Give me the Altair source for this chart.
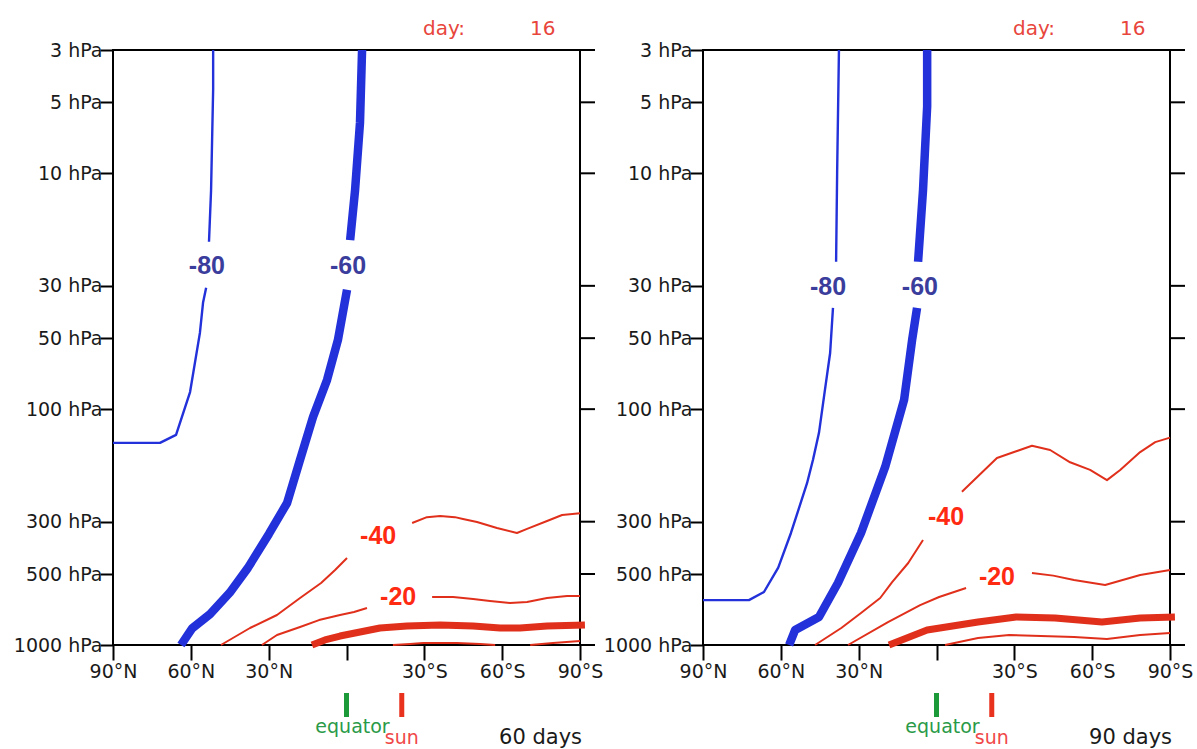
import altair as alt
import pandas as pd

# plot-area size of each panel (pixels)
W, H = 467, 595

P_TICKS = [3, 5, 10, 30, 50, 100, 300, 500, 1000]
LAT_TICKS = [90, 60, 30, 0, -30, -60, -90]
DAY = 16
SUN_LAT = -21.3

BLUE = "#2231d9"
BLUE_LABEL = "#3a3d9c"
RED = "#e0301c"
RED_LABEL = "#ff2a12"

# ---- contour lines: (latitude [+N / -S], pressure hPa) ------------------
# a level is split into pieces where its label sits
# 60-day run
R60_M80 = [
    [(90, 139), (71.9, 139), (65.7, 128.6), (60.3, 84.6), (56.5, 47.5), (55.3, 35.4), (54.1, 30.6)],
    [(53.0, 19.5), (52.2, 11.8), (51.8, 7.2), (51.4, 4.4), (51.4, 3)],
]
R60_M60 = [
    [(63.8, 1000), (59.5, 850), (52.6, 740), (45.0, 600), (38.0, 471), (29.9, 338), (22.9, 250),
     (17.9, 164), (12.9, 108), (7.5, 75.2), (3.3, 50.9), (-0.2, 31.2)],
    [(-1.4, 19.2), (-3.3, 11.8), (-5.2, 6.1), (-6.0, 3)],
]
R60_M40 = [
    [(48.4, 1000), (37.2, 847), (26.8, 746), (17.9, 632), (9.8, 546), (4.4, 481), (-0.2, 428)],
    [(-25.3, 304), (-31.0, 287), (-36.1, 284), (-41.8, 287), (-44.9, 292), (-50.3, 301), (-58.0, 319),
     (-65.7, 335), (-69.6, 322), (-77.3, 298), (-83.1, 281), (-90, 276)],
]
R60_M20 = [
    [(32.6, 1000), (26.8, 907), (17.9, 839), (10.6, 784), (2.5, 746), (-2.9, 725), (-7.9, 697)],
    [(-33.0, 626), (-41.1, 626), (-48.8, 638), (-55.3, 651), (-63.0, 664), (-69.6, 657), (-77.3, 632),
     (-85.0, 620), (-90, 620)],
]
R60_Z0 = [
    [(13.3, 1000), (8.3, 952), (2.5, 916), (-5.2, 881), (-12.9, 847), (-23.3, 831), (-36.1, 823),
     (-48.8, 831), (-59.2, 847), (-66.9, 847), (-77.3, 831), (-91.9, 823)],
]
R60_P20 = [
    [(-17.9, 1000), (-24.5, 990), (-29.5, 981), (-42.6, 981), (-51.5, 990), (-57.3, 1000)],
    [(-70.8, 1000), (-79.6, 981), (-90, 962)],
]
R60_LABELS = [("-80", 53.8, 24.7), ("-60", -0.6, 24.7), ("-40", -12.2, 345), ("-20", -19.9, 626)]

# 90-day run
R90_M80 = [
    [(90, 645), (72.3, 645), (66.5, 596), (61.0, 470), (56.1, 335), (49.9, 206), (47.6, 164),
     (45.3, 126), (43.0, 82.9), (41.0, 57.8), (39.9, 37.2)],
    [(38.7, 23.7), (38.3, 10.0), (37.6, 3)],
]
R90_M60 = [
    [(56.8, 1000), (54.5, 864), (45.3, 761), (38.0, 546), (29.1, 335), (19.8, 176), (12.5, 91.4),
     (9.4, 50.9), (7.5, 37.2)],
    [(7.1, 23.7), (5.2, 11.8), (3.6, 5.2), (3.6, 3)],
]
R90_M40 = [
    [(46.8, 1000), (36.7, 847), (29.1, 732), (21.7, 632), (17.1, 541), (10.9, 449), (5.2, 359)],
    [(-9.8, 224), (-23.3, 161), (-36.8, 143), (-43.8, 149), (-51.5, 168), (-59.2, 181), (-65.7, 200),
     (-70.8, 181), (-78.5, 152), (-84.3, 138), (-90, 132)],
]
R90_M20 = [
    [(34.1, 1000), (18.7, 799), (6.3, 677), (-1.0, 626), (-11.4, 573)],
    [(-36.8, 495), (-45.0, 508), (-53.0, 530), (-65.0, 557), (-78.5, 505), (-90, 481)],
]
R90_Z0 = [
    [(18.3, 1000), (3.6, 864), (-16.0, 799), (-30.7, 761), (-45.7, 768), (-63.8, 799), (-78.5, 768),
     (-91.9, 761)],
]
R90_P20 = [
    [(-3.3, 1000), (-16.0, 934), (-28.0, 907), (-53.0, 925), (-65.7, 943), (-78.5, 907), (-90, 889)],
]
R90_LABELS = [("-80", 41.8, 30.3), ("-60", 6.4, 30.3), ("-40", -3.7, 287), ("-20", -23.3, 515)]

STYLES = {
    "blue_thin": (BLUE, 2.4),
    "blue_thick": (BLUE, 8.5),
    "red_thin": (RED, 2),
    "red_thick": (RED, 7),
}


def lines_frame(spec):
    rows = []
    for level, style, pieces in spec:
        for k, piece in enumerate(pieces):
            for i, (lat, p) in enumerate(piece):
                rows.append(dict(level=level, style=style, seg=f"{level}_{k}", order=i, lat=lat, p=p))
    return pd.DataFrame(rows)


X_AXIS = alt.Axis(
    values=LAT_TICKS,
    labelExpr="datum.value > 0 ? datum.value + '°N' : (datum.value < 0 ? (-datum.value) + '°S' : '')",
    tickSize=15, tickWidth=2, tickColor="black", domain=False, grid=False, title=None,
    labelFont="DejaVu Sans", labelFontSize=19, labelColor="#1a1a1a", labelPadding=2,
    labelFlush=False, labelOverlap=False,
)
Y_AXIS = alt.Axis(
    values=P_TICKS, labelExpr="datum.value + ' hPa'",
    tickSize=13, tickWidth=2, tickColor="black", domain=False, grid=False, title=None,
    labelFont="DejaVu Sans", labelFontSize=19, labelColor="#1a1a1a", labelPadding=-2,
    labelOverlap=False,
)
X_SCALE = alt.Scale(domain=[90, -90], nice=False, zero=False)
Y_SCALE = alt.Scale(type="log", domain=[1000, 3], nice=False)


def panel(spec, labels, days):
    df = lines_frame(spec)
    x = alt.X("lat:Q", scale=X_SCALE, axis=X_AXIS)
    y = alt.Y("p:Q", scale=Y_SCALE, axis=Y_AXIS)
    layers = []
    for style, (color, width) in STYLES.items():
        layers.append(
            alt.Chart(df[df["style"] == style])
            .mark_line(color=color, strokeWidth=width, strokeJoin="round")
            .encode(x=x, y=y, detail="seg:N", order="order:Q")
        )

    lab = pd.DataFrame(labels, columns=["txt", "lat", "p"])
    lab["blue"] = lab["txt"].isin(["-80", "-60"])
    for is_blue, color in [(True, BLUE_LABEL), (False, RED_LABEL)]:
        layers.append(
            alt.Chart(lab[lab["blue"] == is_blue])
            .mark_text(font="Liberation Sans", fontWeight="bold", fontSize=25, color=color,
                       align="center", baseline="middle")
            .encode(x=x, y=y, text="txt:N")
        )

    # right-hand axis ticks
    layers.append(
        alt.Chart(pd.DataFrame({"p": P_TICKS}))
        .mark_rule(color="black", strokeWidth=2)
        .encode(y=y, x=alt.value(W), x2=alt.value(W + 15))
    )

    # equator and sub-solar latitude markers below the axis
    marks = pd.DataFrame({"lat": [0, SUN_LAT], "kind": ["equator", "sun"]})
    for kind, color, tcolor, ty in [("equator", "#1c9a3a", "#2a9a48", 683), ("sun", "#e8321e", "#f04848", 694)]:
        sub = marks[marks["kind"] == kind]
        layers.append(
            alt.Chart(sub).mark_rule(color=color, strokeWidth=5)
            .encode(x=x, y=alt.value(643), y2=alt.value(667))
        )
        layers.append(
            alt.Chart(sub).mark_text(color=tcolor, font="DejaVu Sans", fontSize=19,
                                     align="center", baseline="alphabetic",
                                     dx=6 if kind == "equator" else 0)
            .encode(x=x, y=alt.value(ty), text="kind:N")
        )

    # run length and day counter
    layers.append(
        alt.Chart(pd.DataFrame({"t": [f"{days}  days"]}))
        .mark_text(color="#1a1a1a", font="DejaVu Sans", fontSize=21, align="right", baseline="alphabetic")
        .encode(x=alt.value(W + 2), y=alt.value(694), text="t:N")
    )
    layers.append(
        alt.Chart(pd.DataFrame({"t": ["day:"]}))
        .mark_text(color="#e8463c", font="DejaVu Sans", fontSize=20, align="left", baseline="alphabetic")
        .encode(x=alt.value(310), y=alt.value(-15), text="t:N")
    )
    layers.append(
        alt.Chart(pd.DataFrame({"t": [str(DAY)]}))
        .mark_text(color="#e8463c", font="DejaVu Sans", fontSize=20, align="left", baseline="alphabetic")
        .encode(x=alt.value(417), y=alt.value(-15), text="t:N")
    )
    return alt.layer(*layers).properties(width=W, height=H)


SPEC60 = [
    ("-80", "blue_thin", R60_M80), ("-60", "blue_thick", R60_M60),
    ("-40", "red_thin", R60_M40), ("-20", "red_thin", R60_M20),
    ("0", "red_thick", R60_Z0), ("20", "red_thin", R60_P20),
]
SPEC90 = [
    ("-80", "blue_thin", R90_M80), ("-60", "blue_thick", R90_M60),
    ("-40", "red_thin", R90_M40), ("-20", "red_thin", R90_M20),
    ("0", "red_thick", R90_Z0), ("20", "red_thin", R90_P20),
]

chart = (
    alt.hconcat(panel(SPEC60, R60_LABELS, 60), panel(SPEC90, R90_LABELS, 90), spacing=123, bounds="flush")
    .configure_view(stroke="black", strokeWidth=2)
    .properties(padding={"left": 12, "top": 18, "right": 0, "bottom": 0}, background="white")
)

chart.save("out.html", embed_options={"renderer": "svg", "actions": False})
